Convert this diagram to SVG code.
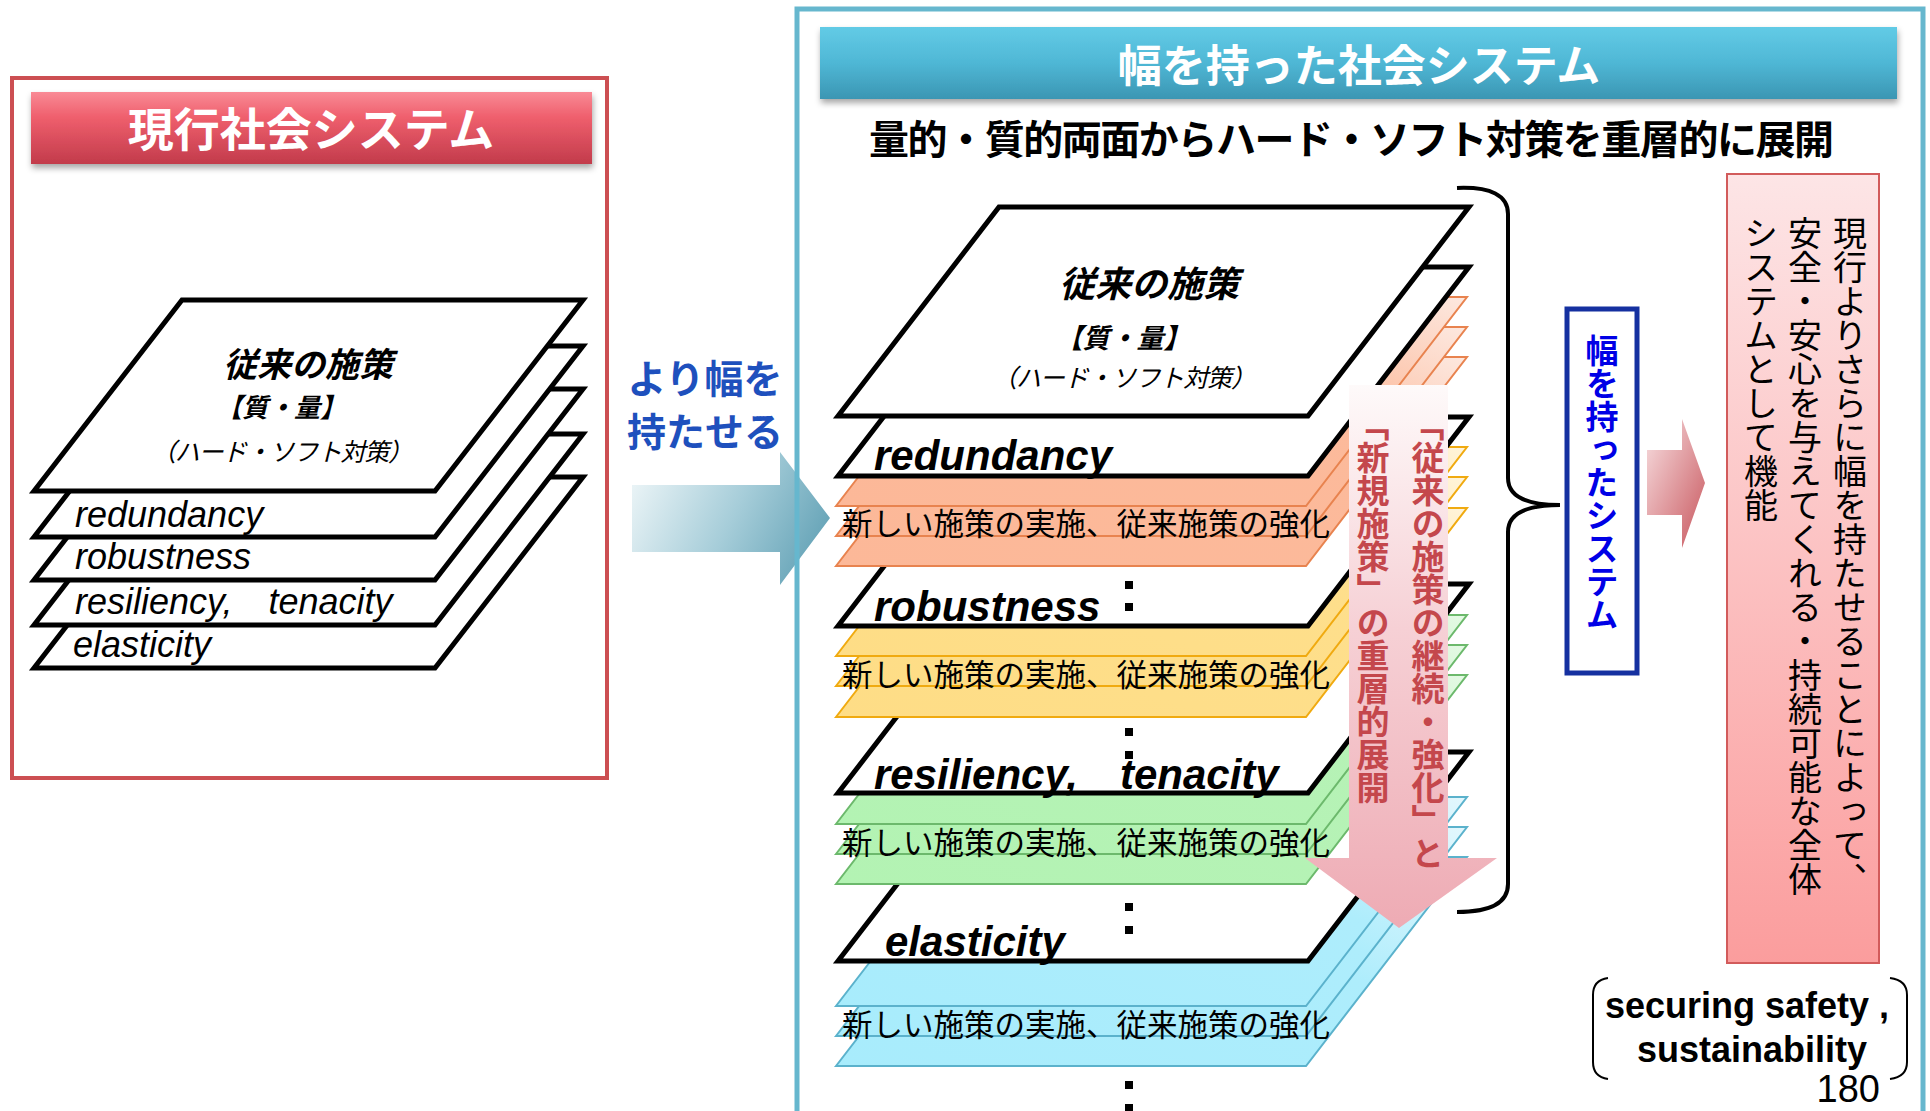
<svg xmlns="http://www.w3.org/2000/svg" xmlns:xlink="http://www.w3.org/1999/xlink" width="1930" height="1111" viewBox="0 0 1930 1111">
<style>
.jp{font-family:'Noto Sans CJK JP','Noto Sans CJK SC',sans-serif;}
.en{font-family:'Liberation Sans',Arial,sans-serif;}
.blk{fill:#fff;stroke:#000;stroke-width:5;stroke-linejoin:miter;}
.or{fill:url(#gOr);stroke:#e8834f;stroke-width:2;}
.ye{fill:url(#gYe);stroke:#f0aa10;stroke-width:2;}
.gr{fill:url(#gGr);stroke:#6cb96c;stroke-width:2;}
.bl{fill:url(#gBl);stroke:#5bb2cc;stroke-width:2;}
.lab{font-family:'Liberation Sans',Arial,sans-serif;font-size:42px;font-weight:bold;font-style:italic;fill:#000;}
.llab{font-family:'Liberation Sans',Arial,sans-serif;font-size:36px;font-style:italic;fill:#000;}
.new{font-family:'Noto Sans CJK JP',sans-serif;font-size:30.5px;fill:#000;}
.vt{writing-mode:vertical-rl;}
</style>
<defs>
<linearGradient id="gRedBar" x1="0" y1="0" x2="0" y2="1">
<stop offset="0" stop-color="#f98a95"/><stop offset="0.35" stop-color="#ef5f6d"/><stop offset="1" stop-color="#c23b4b"/>
</linearGradient>
<linearGradient id="gBlueBar" x1="0" y1="0" x2="0" y2="1">
<stop offset="0" stop-color="#62cbe6"/><stop offset="0.5" stop-color="#4fb7d5"/><stop offset="1" stop-color="#3b96b3"/>
</linearGradient>
<linearGradient id="gArrow" gradientUnits="userSpaceOnUse" x1="632" y1="470" x2="830" y2="570">
<stop offset="0" stop-color="#eef6f8"/><stop offset="0.5" stop-color="#a6cdd9"/><stop offset="1" stop-color="#5a9cb1"/>
</linearGradient>
<linearGradient id="gPinkR" x1="0" y1="0" x2="1" y2="1">
<stop offset="0" stop-color="#f8e0e2"/><stop offset="1" stop-color="#c8565d"/>
</linearGradient>
<linearGradient id="gPinkD" x1="0" y1="0" x2="0" y2="1">
<stop offset="0" stop-color="#fefafa"/><stop offset="0.45" stop-color="#f6d0d5"/><stop offset="1" stop-color="#eeabb4"/>
</linearGradient>
<linearGradient id="gBox" x1="0" y1="0" x2="0" y2="1">
<stop offset="0" stop-color="#fde5e6"/><stop offset="1" stop-color="#fb9d9d"/>
</linearGradient>
<linearGradient id="gOr" x1="0" y1="1" x2="1" y2="0">
<stop offset="0" stop-color="#fcb898"/><stop offset="0.62" stop-color="#fcba9b"/><stop offset="1" stop-color="#fde8df"/>
</linearGradient>
<linearGradient id="gYe" x1="0" y1="1" x2="1" y2="0">
<stop offset="0" stop-color="#fedd86"/><stop offset="0.62" stop-color="#fedf8c"/><stop offset="1" stop-color="#fff4da"/>
</linearGradient>
<linearGradient id="gGr" x1="0" y1="1" x2="1" y2="0">
<stop offset="0" stop-color="#b3f3b3"/><stop offset="0.62" stop-color="#b6f2b6"/><stop offset="1" stop-color="#e4f9e4"/>
</linearGradient>
<linearGradient id="gBl" x1="0" y1="1" x2="1" y2="0">
<stop offset="0" stop-color="#a8ecfc"/><stop offset="0.62" stop-color="#aeedfc"/><stop offset="1" stop-color="#e3f7fd"/>
</linearGradient>
<filter id="sh" x="-5%" y="-20%" width="110%" height="150%">
<feDropShadow dx="1" dy="4" stdDeviation="3" flood-color="#000" flood-opacity="0.35"/>
</filter>
<path id="ls" d="M0,0 L148,-191 L549,-191 L401,0 Z"/>
<path id="rs" d="M0,0 L161,-209 L631,-209 L470,0 Z"/>
</defs>
<rect width="1930" height="1111" fill="#fff"/>

<!-- Left panel -->
<g id="left-panel">
<rect x="12" y="78" width="595" height="700" fill="#fff" stroke="#cc4f52" stroke-width="4"/>
<rect x="31" y="92" width="561" height="72" fill="url(#gRedBar)" filter="url(#sh)"/>
<text class="jp" x="311" y="146" font-size="46" font-weight="bold" fill="#fff" text-anchor="middle">現行社会システム</text>
</g>

<g id="left-stack">
<use href="#ls" x="34" y="668" class="blk"/>
<use href="#ls" x="34" y="625" class="blk"/>
<use href="#ls" x="34" y="580" class="blk"/>
<use href="#ls" x="34" y="537" class="blk"/>
<use href="#ls" x="34" y="491" class="blk"/>
<text class="jp" x="308" y="377" font-size="34" font-weight="bold" font-style="italic" text-anchor="middle">従来の施策</text>
<text class="jp" x="281" y="417" font-size="26" font-weight="bold" font-style="italic" text-anchor="middle">【質・量】</text>
<text class="jp" x="282" y="461" font-size="25" font-style="italic" text-anchor="middle" textLength="262" lengthAdjust="spacing">（ハード・ソフト対策）</text>
<text class="llab" x="75" y="527">redundancy</text>
<text class="llab" x="75" y="569">robustness</text>
<text class="llab" x="75" y="614">resiliency,　tenacity</text>
<text class="llab" x="73" y="657">elasticity</text>
</g>

<!-- Middle arrow -->
<g id="widen-arrow">
<polygon points="632,485 780,485 780,452 830,518 780,585 780,552 632,552" fill="url(#gArrow)"/>
<text class="jp" x="705" y="393" font-size="39" font-weight="bold" fill="#1e50bd" text-anchor="middle">より幅を</text>
<text class="jp" x="705" y="446" font-size="39" font-weight="bold" fill="#1e50bd" text-anchor="middle">持たせる</text>
</g>

<!-- Right panel -->
<g id="right-panel">
<rect x="797" y="9" width="1126" height="1120" fill="none" stroke="#66b7ce" stroke-width="5"/>
<rect x="820" y="27" width="1077" height="72" fill="url(#gBlueBar)" filter="url(#sh)"/>
<text class="jp" x="1359" y="82" font-size="44" font-weight="bold" fill="#fff" text-anchor="middle">幅を持った社会システム</text>
<text class="jp" x="869" y="154" font-size="40" font-weight="bold" fill="#000" textLength="965" lengthAdjust="spacing">量的・質的両面からハード・ソフト対策を重層的に展開</text>
</g>

<g id="right-stack">
<use href="#rs" x="836" y="1066" class="bl"/>
<use href="#rs" x="836" y="1036" class="bl"/>
<use href="#rs" x="836" y="1006" class="bl"/>
<use href="#rs" x="838" y="961" class="blk"/>
<use href="#rs" x="836" y="884" class="gr"/>
<use href="#rs" x="836" y="854" class="gr"/>
<use href="#rs" x="836" y="824" class="gr"/>
<use href="#rs" x="838" y="793" class="blk"/>
<use href="#rs" x="836" y="717" class="ye"/>
<use href="#rs" x="836" y="686" class="ye"/>
<use href="#rs" x="836" y="656" class="ye"/>
<use href="#rs" x="838" y="626" class="blk"/>
<use href="#rs" x="836" y="566" class="or"/>
<use href="#rs" x="836" y="536" class="or"/>
<use href="#rs" x="836" y="506" class="or"/>
<use href="#rs" x="838" y="476" class="blk"/>
<use href="#rs" x="838" y="416" class="blk"/>
<text class="jp" x="1149" y="297" font-size="36" font-weight="bold" font-style="italic" text-anchor="middle">従来の施策</text>
<text class="jp" x="1123" y="348" font-size="27" font-weight="bold" font-style="italic" text-anchor="middle">【質・量】</text>
<text class="jp" x="1124" y="387" font-size="25" font-style="italic" text-anchor="middle" textLength="264" lengthAdjust="spacing">（ハード・ソフト対策）</text>
<text class="lab" x="874" y="470">redundancy</text>
<text class="lab" x="874" y="621">robustness</text>
<text class="lab" x="874" y="789">resiliency,　tenacity</text>
<text class="lab" x="885" y="956">elasticity</text>
<text class="new" x="842" y="535">新しい施策の実施、従来施策の強化</text>
<text class="new" x="842" y="686">新しい施策の実施、従来施策の強化</text>
<text class="new" x="842" y="854">新しい施策の実施、従来施策の強化</text>
<text class="new" x="842" y="1036">新しい施策の実施、従来施策の強化</text>
<g fill="#000">
<rect x="1125" y="581" width="8" height="8"/><rect x="1125" y="603" width="8" height="8"/>
<rect x="1125" y="728" width="8" height="8"/><rect x="1125" y="751" width="8" height="8"/>
<rect x="1125" y="903" width="8" height="8"/><rect x="1125" y="926" width="8" height="8"/>
<rect x="1125" y="1081" width="8" height="8"/><rect x="1125" y="1104" width="8" height="8"/>
</g>
</g>

<!-- Down arrow with labels -->
<g id="layer-arrow">
<polygon points="1349,385 1448,385 1448,858 1497,858 1399,928 1305,858 1349,858" fill="url(#gPinkD)"/>
<text class="jp vt" x="1428" y="408" font-size="33" font-weight="bold" fill="#c4474c">「従来の施策の継続・強化」と</text>
<text class="jp vt" x="1373" y="408" font-size="33" font-weight="bold" fill="#c4474c">「新規施策」の重層的展開</text>
</g>

<g id="connectors">
<path d="M1457,188 Q1508,186 1508,214 L1508,478 Q1508,505 1560,505 Q1508,505 1508,532 L1508,884 Q1508,912 1457,912" fill="none" stroke="#000" stroke-width="4"/>
<polygon points="1647,450 1682,450 1682,419 1705,483 1682,548 1682,515 1647,515" fill="url(#gPinkR)"/>
</g>

<g id="wide-system">
<rect x="1567" y="309" width="70" height="364" fill="#fff" stroke="#1530a0" stroke-width="5"/>
<text class="jp vt" x="1602" y="334" font-size="33" font-weight="bold" fill="#0000e6">幅を持ったシステム</text>
</g>

<g id="result-box">
<rect x="1727" y="174" width="152" height="789" fill="url(#gBox)" stroke="#d25b5b" stroke-width="2"/>
<text class="jp vt" x="1850" y="216" font-size="34" fill="#000">現行よりさらに幅を持たせることによって、</text>
<text class="jp vt" x="1805" y="216" font-size="34" fill="#000">安全・安心を与えてくれる・持続可能な全体</text>
<text class="jp vt" x="1761" y="216" font-size="34" fill="#000">システムとして機能</text>
</g>

<g id="note">
<path d="M1608,978 Q1593,980 1593,995 L1593,1062 Q1593,1077 1608,1079" fill="none" stroke="#000" stroke-width="2"/>
<path d="M1890,978 Q1907,980 1907,995 L1907,1062 Q1907,1077 1890,1079" fill="none" stroke="#000" stroke-width="2"/>
<text class="en" x="1605" y="1018" font-size="36" font-weight="bold">securing safety ,</text>
<text class="en" x="1637" y="1062" font-size="36" font-weight="bold">sustainability</text>
<text class="en" x="1880" y="1102" font-size="38" text-anchor="end">180</text>
</g>
</svg>
